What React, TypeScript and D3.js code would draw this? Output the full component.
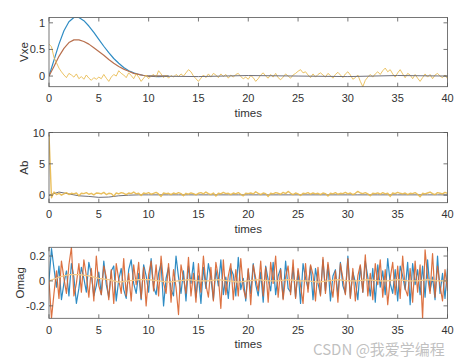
import React from "react";
import * as d3 from "d3";

// sampled every 0.25 s
const dt = 0.25;
const xTicks = [0, 5, 10, 15, 20, 25, 30, 35, 40];

// Vxe panel
const vxeTime = [0, 0.5, 1, 1.5, 2, 2.5, 3, 3.5, 4, 4.5, 5, 5.5, 6, 6.5, 7, 7.5, 8, 8.5, 9, 9.5, 10, 11, 12];
const vxeBlue = [0, 0.3, 0.6, 0.85, 1.02, 1.1, 1.1, 1.04, 0.94, 0.82, 0.69, 0.56, 0.44, 0.33, 0.24, 0.16, 0.1, 0.06, 0.03, 0.01, 0, -0.01, 0];
const vxeOrange = [0, 0.18, 0.37, 0.52, 0.63, 0.68, 0.68, 0.65, 0.6, 0.53, 0.46, 0.39, 0.31, 0.24, 0.18, 0.13, 0.09, 0.05, 0.03, 0.01, 0, 0, 0];
const vxeGrayTime = [10, 15, 20, 25, 30, 35, 40];
const vxeGray = [0, -0.01, 0.01, 0, -0.01, 0.01, 0];
const vxeYellow = [
  0.6, 0.55, 0.35, 0.25, 0.15, 0.08, 0.02, -0.03, 0.05, 0.02,
  -0.02, 0.04, -0.05, -0.01, -0.06, 0.02, -0.04, -0.08, -0.03, -0.06,
  -0.02, -0.05, 0.03, -0.04, -0.1, -0.02, 0.03, 0.0, 0.1, 0.05,
  0.02, -0.03, 0.06, 0.01, -0.05, 0.04, -0.02, -0.1, -0.04, 0.02,
  -0.05, 0.0, 0.03, -0.02, 0.1, 0.04, -0.03, 0.02, -0.04, 0.01,
  -0.02, 0.03, -0.01, 0.04, 0.0, 0.06, 0.12, 0.08, 0.0, -0.05,
  -0.1, -0.04, 0.02, -0.03, 0.04, -0.02, 0.05, 0.02, -0.03, 0.04,
  -0.01, 0.03, -0.04, 0.02, -0.02, 0.03, 0.05, -0.01, -0.05, -0.02,
  -0.06, 0.01, -0.03, -0.1, -0.05, 0.02, 0.06, 0.0, -0.04, 0.03,
  -0.02, 0.05, -0.03, -0.07, -0.02, 0.04, 0.0, -0.04, 0.02, 0.05,
  0.09, 0.12, 0.06, 0.08, 0.02, -0.03, 0.04, -0.02, 0.03, 0.06,
  0.02, -0.02, 0.05, 0.01, -0.04, 0.03, 0.07, 0.02, -0.03, 0.04,
  0.08, 0.02, -0.06, -0.03, 0.02, -0.1, -0.2, -0.08, -0.02, 0.03,
  -0.02, 0.04, 0.08, 0.03, 0.1, 0.15, 0.08, 0.12, 0.04, -0.02,
  0.06, 0.12, 0.04, -0.03, 0.05, 0.02, -0.05, 0.03, -0.04, -0.1,
  -0.03, 0.04, -0.02, 0.03, -0.05, 0.02, 0.05, 0.0, -0.03, 0.02,
  -0.05,
];

// Ab panel
const abYellow = [
  9.6, -0.4, 0.5, 0.1, 0.3, 0.0, 0.2, 0.4, 0.1, 0.3,
  0.2, 0.35, -0.1, 0.3, 0.25, 0.4, 0.15, 0.3, 0.05, 0.35,
  0.3, 0.2, 0.45, 0.1, 0.3, 0.25, -0.15, 0.35, 0.2, 0.4,
  0.3, 0.1, 0.35, 0.25, 0.5, 0.2, 0.3, -0.05, 0.35, 0.25,
  0.4, 0.15, 0.3, 0.45, 0.2, -0.2, 0.35, 0.25, 0.3, 0.1,
  0.35, 0.2, 0.4, 0.25, -0.1, 0.3, 0.15, 0.35, 0.25, 0.05,
  0.3, 0.4, 0.2, 0.5, 0.25, 0.1, 0.35, -0.15, 0.3, 0.2,
  0.45, 0.25, 0.3, 0.1, 0.35, 0.2, 0.4, 0.15, -0.1, 0.3,
  0.25, 0.35, 0.2, 0.55, 0.3, 0.1, 0.35, 0.25, -0.2, 0.3,
  0.2, 0.4, 0.3, 0.15, 0.45, 0.25, 0.6, 0.3, 0.1, 0.35,
  0.2, -0.05, 0.3, 0.25, 0.4, 0.15, 0.35, 0.2, 0.3, 0.1,
  0.35, 0.25, -0.15, 0.3, 0.2, 0.4, 0.15, 0.3, 0.25, 0.45,
  0.2, 0.35, 0.1, 0.3, 0.6, 0.35, 0.25, 0.4, 0.2, -0.1,
  0.3, 0.25, 0.35, 0.15, 0.4, 0.2, 0.3, -0.2, 0.35, 0.25,
  0.45, 0.3, 0.2, 0.35, 0.1, 0.3, 0.25, 0.4, 0.15, -0.25,
  0.3, 0.2, 0.35, 0.5, 0.25, 0.1, 0.4, 0.3, 0.2, 0.45,
  0.3,
];
const abGray = [0, 0.5, 0.2, -0.1, -0.2, -0.35, -0.3, -0.1, 0, 0.05, 0.05, 0.05, 0.05, 0.05, 0.05, 0.05, 0.05, 0.05, 0.05, 0.05, 0.05,
  0.05, 0.05, 0.05, 0.05, 0.05, 0.05, 0.05, 0.05, 0.05, 0.05, 0.05, 0.05, 0.05, 0.05, 0.05, 0.05, 0.05, 0.05, 0.05, 0.05];

// Omag panel
const omBlue = [
  0, 0.26, 0.1, -0.05, 0.12, -0.15, -0.02, 0.08, -0.12, 0.14,
  0.03, -0.18, -0.06, 0.11, 0.02, -0.09, 0.15, 0.05, -0.12, -0.04,
  0.07, -0.11, 0.16, -0.03, -0.13, 0.08, 0.12, -0.16, 0.01, 0.1,
  -0.07, -0.14, 0.09, 0.17, -0.02, -0.1, 0.06, -0.15, 0.13, 0.04,
  -0.09, 0.18, -0.05, -0.11, 0.06, 0.14, -0.2, 0.02, 0.11, -0.07,
  -0.12, 0.2, 0.03, -0.1, 0.08, -0.16, 0.12, -0.02, 0.15, -0.13,
  0.04, -0.18, 0.11, -0.06, 0.14, 0.02, -0.15, 0.09, -0.04, 0.17,
  -0.11, 0.03, -0.14, 0.1, 0.05, -0.12, 0.19, -0.07, 0.02, -0.16,
  0.09, -0.1, 0.14, -0.03, -0.12, 0.07, -0.17, 0.12, 0.01, -0.08,
  0.15, -0.11, 0.04, 0.1, -0.14, 0.16, -0.06, -0.09, 0.11, -0.13,
  0.08, -0.18, 0.14, 0.02, -0.06, 0.12, -0.15, 0.1, -0.02, -0.11,
  0.17, -0.08, 0.13, -0.16, 0.04, 0.09, -0.12, 0.15, -0.04, -0.1,
  0.2, -0.13, 0.07, -0.01, -0.15, 0.12, -0.09, 0.16, 0.03, -0.12,
  0.1, -0.17, 0.13, -0.05, 0.08, -0.11, 0.18, -0.02, -0.1, 0.09,
  -0.16, 0.12, 0.04, -0.07, 0.15, -0.19, 0.14, -0.03, 0.09, -0.11,
  0.12, -0.13, 0.17, -0.08, 0.03, -0.15, 0.2, -0.1, 0.06, -0.14,
  0.1,
];
const omOrange = [
  0, -0.3, -0.1, 0.08, -0.14, 0.16, 0.02, -0.1, 0.13, 0.27,
  -0.12, -0.02, 0.14, -0.09, 0.17, 0.04, -0.13, 0.1, -0.16, 0.2,
  -0.04, -0.11, 0.12, 0.03, -0.15, 0.09, -0.18, 0.14, 0.01, -0.1,
  0.18, -0.12, 0.06, -0.16, 0.13, -0.03, 0.15, -0.14, 0.11, -0.2,
  0.05, 0.16, -0.08, 0.13, -0.12, 0.2, -0.02, -0.1, 0.14, -0.17,
  0.09, -0.05, -0.27, 0.13, 0.02, -0.1, 0.19, -0.12, 0.06, -0.17,
  0.14, -0.09, 0.2, -0.03, -0.13, 0.11, -0.16, 0.15, 0.03, -0.22,
  0.17, -0.11, 0.04, 0.14, -0.15, 0.09, -0.12, 0.18, -0.06, -0.14,
  0.1, -0.19, 0.13, 0.02, -0.08, 0.16, -0.12, 0.11, -0.17, 0.15,
  -0.02, 0.2, -0.13, 0.09, -0.15, 0.03, 0.12, -0.11, 0.17, -0.14,
  0.1, -0.04, -0.18, 0.14, -0.09, 0.13, 0.05, -0.16, 0.11, -0.12,
  0.19, -0.1, 0.15, -0.01, -0.13, 0.08, -0.17, 0.14, 0.02, -0.11,
  0.18, -0.14, 0.1, -0.16, 0.04, 0.13, -0.09, 0.21, -0.12, 0.06,
  -0.15, 0.14, -0.03, 0.17, -0.13, 0.09, -0.19, 0.02, 0.15, -0.11,
  0.12, -0.14, 0.2, -0.06, -0.12, 0.1, -0.17, 0.16, -0.09, 0.13,
  -0.3, 0.25, 0.03, -0.1, 0.22, -0.13, 0.12, -0.04, -0.16, 0.09,
  -0.08,
];
const omYellow = [0, 0.03, 0.05, 0.05, 0.04, 0.02, 0.01, -0.01, 0, 0.01, 0.01, 0, -0.01, 0, 0.01, 0, 0, 0.01, 0, -0.01, 0,
  0.01, 0, 0, 0.01, 0, 0, -0.01, 0, 0.01, 0, 0, 0.01, 0, 0, 0.01, 0, 0, 0.01, 0, 0];

const blue = "#2f8cc4";
const orange = "#d8632e";
const yellow = "#e8b84a";
const gray = "#6f6f7a";
const ink = "#333";
const font = "Liberation Sans, Arial, sans-serif";

const x = d3.scaleLinear().domain([0, 40]).range([49, 447.5]);

type Series = { t: number[]; v: number[]; color: string; width: number; opacity?: number };

function steps(v: number[], step: number) {
  return v.map((_, i) => i * step);
}

function Panel(props: {
  id: string;
  top: number;
  bottom: number;
  domain: [number, number];
  yTicks: number[];
  label: string;
  labelX: number;
  series: Series[];
}) {
  const { id, top, bottom, domain, yTicks, label, labelX, series } = props;
  const y = d3.scaleLinear().domain(domain).range([bottom, top]);
  const [x0, x1] = x.range();
  const tk = 4;
  return (
    <g>
      <defs>
        <clipPath id={id}>
          <rect x={x0} y={top} width={x1 - x0} height={bottom - top} />
        </clipPath>
      </defs>
      <g clipPath={`url(#${id})`}>
        {series.map((s, i) => {
          const line = d3
            .line<number>()
            .x((_, j) => x(s.t[j]))
            .y((d) => y(d));
          return (
            <path key={i} d={line(s.v) || ""} fill="none" stroke={s.color} strokeWidth={s.width}
              strokeOpacity={s.opacity ?? 1} strokeLinejoin="round" />
          );
        })}
      </g>
      <rect x={x0} y={top} width={x1 - x0} height={bottom - top} fill="none" stroke="#555" strokeWidth={0.8} />
      {xTicks.map((t) => (
        <g key={t}>
          <line x1={x(t)} x2={x(t)} y1={bottom} y2={bottom - tk} stroke="#555" strokeWidth={0.8} />
          <line x1={x(t)} x2={x(t)} y1={top} y2={top + tk} stroke="#555" strokeWidth={0.8} />
          <text x={x(t)} y={bottom + 15.5} textAnchor="middle" fontSize={11} fontFamily={font} fill={ink}>{t}</text>
        </g>
      ))}
      {yTicks.map((t) => (
        <g key={t}>
          <line x1={x0} x2={x0 + tk} y1={y(t)} y2={y(t)} stroke="#555" strokeWidth={0.8} />
          <line x1={x1} x2={x1 - tk} y1={y(t)} y2={y(t)} stroke="#555" strokeWidth={0.8} />
          <text x={45} y={y(t) + 4} textAnchor="end" fontSize={11} fontFamily={font} fill={ink}>{t}</text>
        </g>
      ))}
      <text x={x(20)} y={bottom + 30} textAnchor="middle" fontSize={11.5} fontFamily={font} fill={ink}>times</text>
      <text transform={`translate(${labelX},${(top + bottom) / 2}) rotate(-90)`} textAnchor="middle"
        fontSize={11.5} fontFamily={font} fill={ink}>{label}</text>
    </g>
  );
}

export default function App() {
  return (
    <svg width={474} height={359} style={{ position: "absolute", left: 0, top: 0, background: "#fff" }}>
      <rect width={474} height={359} fill="#fff" />
      <Panel id="p1" top={17.5} bottom={86.7} domain={[-0.2, 1.1]} yTicks={[0, 0.5, 1]} label="Vxe" labelX={28}
        series={[
          { t: vxeTime, v: vxeBlue, color: blue, width: 1.2 },
          { t: vxeTime, v: vxeOrange, color: "#b8704e", width: 1.2 },
          { t: steps(vxeYellow, dt), v: vxeYellow, color: yellow, width: 1, opacity: 0.85 },
          { t: vxeGrayTime, v: vxeGray, color: gray, width: 1 },
        ]} />
      <Panel id="p2" top={132.5} bottom={202.7} domain={[-1.2, 10]} yTicks={[0, 5, 10]} label="Ab" labelX={28}
        series={[
          { t: steps(abGray, 1), v: abGray, color: gray, width: 1 },
          { t: steps(abYellow, dt), v: abYellow, color: yellow, width: 1.4, opacity: 0.9 },
        ]} />
      <Panel id="p3" top={247.3} bottom={318.3} domain={[-0.3, 0.27]} yTicks={[-0.2, 0, 0.2]} label="Omag" labelX={24}
        series={[
          { t: steps(omBlue, dt), v: omBlue, color: blue, width: 1.2 },
          { t: steps(omOrange, dt), v: omOrange, color: orange, width: 1.2, opacity: 0.9 },
          { t: steps(omYellow, 1), v: omYellow, color: "#f2c98a", width: 1.2 },
        ]} />
      <text x={313} y={355} fontSize={15} fontFamily="Noto Sans CJK SC, sans-serif" fill="#b5b5b5" fillOpacity={0.85}>CSDN @我爱学编程</text>
    </svg>
  );
}
